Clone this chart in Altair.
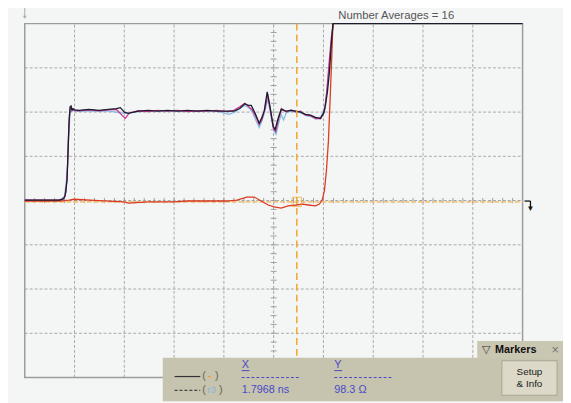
import altair as alt
import pandas as pd

# ---- trace data (x in divisions 0..10, y in divisions -4..4) ----
black_x = [0, 0.69, 0.77, 0.81, 0.85, 0.87, 0.89, 0.91, 0.93, 0.95, 0.97, 1.01, 1.09, 1.29, 1.49, 1.68, 1.84, 1.92, 2.0, 2.08, 2.28, 2.48, 2.67, 2.87, 3.07, 3.27, 3.47, 3.66, 3.86, 4.06, 4.2, 4.32, 4.42, 4.5, 4.55, 4.63, 4.71, 4.77, 4.81, 4.87, 4.93, 4.99, 5.03, 5.09, 5.15, 5.25, 5.35, 5.45, 5.54, 5.64, 5.74, 5.84, 5.94, 6.0, 6.04, 6.08, 6.12, 6.16, 6.19, 10]
black_y = [0.01, 0.01, 0.03, 0.10, 0.46, 1.12, 1.79, 2.12, 2.14, 2.04, 2.08, 2.05, 2.04, 2.06, 2.04, 2.06, 2.08, 2.10, 2.0, 1.97, 2.02, 2.04, 2.02, 2.04, 2.02, 2.04, 2.02, 2.04, 2.02, 2.02, 2.02, 2.08, 2.19, 2.15, 2.15, 1.97, 1.75, 1.90, 2.02, 2.46, 2.10, 1.68, 1.61, 1.86, 2.06, 2.02, 2.04, 2.02, 2.0, 1.95, 1.93, 1.88, 1.86, 1.97, 2.15, 2.46, 2.91, 3.57, 4.0, 4.0]

magenta_x = [0, 0.69, 0.79, 0.83, 0.86, 0.88, 0.90, 0.92, 0.95, 0.99, 1.09, 1.29, 1.49, 1.68, 1.84, 1.96, 2.02, 2.1, 2.28, 2.48, 2.67, 2.87, 3.07, 3.27, 3.47, 3.66, 3.86, 4.06, 4.2, 4.32, 4.42, 4.5, 4.57, 4.65, 4.71, 4.77, 4.83, 4.88, 4.94, 5.0, 5.04, 5.1, 5.16, 5.25, 5.35, 5.45, 5.54, 5.64, 5.74, 5.84, 5.94, 6.02, 6.07, 6.12, 6.16, 6.2]
magenta_y = [0.01, 0.01, 0.05, 0.2, 0.8, 1.5, 1.95, 2.08, 2.06, 2.04, 2.03, 2.05, 2.03, 2.05, 2.06, 1.92, 1.86, 1.98, 2.03, 2.01, 2.04, 2.02, 2.04, 2.01, 2.03, 2.02, 2.04, 2.01, 2.04, 2.12, 2.2, 2.12, 2.05, 1.88, 1.72, 1.85, 2.1, 2.4, 2.0, 1.62, 1.56, 1.85, 2.08, 2.0, 2.05, 2.0, 2.02, 1.93, 1.92, 1.86, 1.85, 2.0, 2.5, 3.2, 3.7, 4.0]

blue_x = [0, 0.7, 0.8, 0.85, 0.88, 0.91, 0.95, 1.0, 1.3, 1.7, 2.0, 2.3, 2.7, 3.1, 3.5, 3.9, 4.1, 4.22, 4.33, 4.42, 4.5, 4.57, 4.64, 4.71, 4.77, 4.83, 4.88, 4.94, 5.0, 5.05, 5.1, 5.15, 5.2, 5.25, 5.35, 5.45, 5.55, 5.65, 5.75, 5.85, 5.95, 6.03, 6.08, 6.13, 6.17, 6.2]
blue_y = [0.01, 0.01, 0.1, 0.6, 1.4, 2.0, 2.04, 2.02, 2.03, 2.02, 1.97, 2.01, 2.03, 2.02, 2.03, 2.01, 1.95, 2.0, 2.1, 2.15, 2.1, 2.0, 1.82, 1.65, 1.82, 2.05, 2.3, 1.95, 1.58, 1.5, 1.75, 1.95, 1.82, 1.98, 2.02, 2.0, 1.98, 1.92, 1.9, 1.84, 1.9, 2.1, 2.6, 3.2, 3.7, 4.0]

red_x = [0, 0.69, 0.89, 0.99, 1.49, 2.0, 2.08, 2.48, 2.99, 3.27, 4.06, 4.26, 4.46, 4.61, 4.75, 4.89, 5.01, 5.15, 5.29, 5.45, 5.58, 5.70, 5.84, 5.92, 5.98, 6.02, 6.06, 6.10, 6.14, 6.17, 6.19]
red_y = [-0.01, -0.01, 0.01, 0.03, 0.0, -0.03, -0.06, -0.03, -0.03, -0.01, -0.01, 0.01, 0.08, 0.08, -0.01, -0.10, -0.14, -0.17, -0.12, -0.10, -0.08, -0.10, -0.12, -0.08, 0.03, 0.23, 0.68, 1.35, 2.46, 3.35, 4.0]

marker_x = 5.465
marker_y = -0.03
grid_x = [1, 2, 3, 4, 6, 7, 8, 9]
grid_y = [-3, -2, -1, 1, 2, 3]
title_text = "Number Averages = 16"
x_readout = "1.7968 ns"
y_readout = "98.3 \u03a9"

FONT = "Liberation Sans"
xs = alt.Scale(domain=[0, 10], range=[17, 522])
ys = alt.Scale(domain=[-4, 4], range=[372, 13])
one = pd.DataFrame({"a": [0]})


def X(f):
    return alt.X(f, scale=xs, axis=None)


def Y(f):
    return alt.Y(f, scale=ys, axis=None)


def trace(xv, yv, color, w=1.3):
    df = pd.DataFrame({"x": xv, "y": yv})
    return alt.Chart(df).mark_line(color=color, strokeWidth=w).encode(x=X("x:Q"), y=Y("y:Q"))


def vrules(vals, y0, y1, color, dash=None, w=1.0):
    kw = dict(color=color, strokeWidth=w)
    if dash:
        kw["strokeDash"] = dash
    df = pd.DataFrame({"d": vals, "y0": y0, "y1": y1})
    return alt.Chart(df).mark_rule(**kw).encode(x=X("d:Q"), y=Y("y0:Q"), y2="y1:Q")


def hrules(vals, x0, x1, color, dash=None, w=1.0):
    kw = dict(color=color, strokeWidth=w)
    if dash:
        kw["strokeDash"] = dash
    df = pd.DataFrame({"d": vals, "x0": x0, "x1": x1})
    return alt.Chart(df).mark_rule(**kw).encode(y=Y("d:Q"), x=X("x0:Q"), x2="x1:Q")


ty = [round(-4 + 0.2 * k, 2) for k in range(41)]
tx = [round(0.2 * k, 2) for k in range(51)]

vg = vrules(grid_x, -4, 4, "#a9a9a9", [3, 2])
hg = hrules(grid_y, 0, 10, "#a9a9a9", [3, 2])
cv = vrules([5], -4, 4, "#a0a0a0", [3, 2])
ch = hrules([0], 0, 10, "#a0a0a0", [3, 2])
cvt = hrules(ty, 4.94, 5.06, "#a0a0a0")
cht = vrules(tx, -0.06, 0.06, "#a0a0a0")

frame = alt.Chart(pd.DataFrame({"x0": [0], "x1": [10], "y0": [-4], "y1": [4]})).mark_rect(
    fillOpacity=0, stroke="#9c9c9c", strokeWidth=1.5).encode(
    x=X("x0:Q"), x2="x1:Q", y=Y("y0:Q"), y2="y1:Q")

ohl = hrules([marker_y], 0, 10, "#f2c57e", [5, 2], 1.6)
ovl = vrules([marker_x], -4, 4, "#f0a52a", [7, 4], 1.5)
obox = alt.Chart(pd.DataFrame({"x": [marker_x], "y": [marker_y]})).mark_point(
    shape="square", size=90, color="#f0a52a", strokeWidth=1, opacity=0.7).encode(
    x=X("x:Q"), y=Y("y:Q"))

t_blue = trace(blue_x, blue_y, "#86bce4")
t_mag = trace(magenta_x, magenta_y, "#c8348e")
t_red = trace(red_x, red_y, "#dc3a22")
t_blk = trace(black_x, black_y, "#1c1c2c")


def txt(s, x, y, color="#222222", size=11, weight="normal", align="left"):
    return alt.Chart(one).mark_text(text=s, font=FONT, fontSize=size, color=color,
                                    fontWeight=weight, align=align, baseline="middle").encode(
        x=alt.value(x), y=alt.value(y))


def hline(x0, x1, y, color, dash=None, w=1.0):
    kw = dict(color=color, strokeWidth=w)
    if dash:
        kw["strokeDash"] = dash
    return alt.Chart(one).mark_rule(**kw).encode(x=alt.value(x0), x2=alt.value(x1), y=alt.value(y))


def vline(x, y0, y1, color, w=1.0):
    return alt.Chart(one).mark_rule(color=color, strokeWidth=w).encode(
        x=alt.value(x), y=alt.value(y0), y2=alt.value(y1))


def box(x0, x1, y0, y1, color, stroke=None):
    kw = dict(color=color)
    if stroke:
        kw["stroke"] = stroke
        kw["strokeWidth"] = 1
    return alt.Chart(one).mark_rect(**kw).encode(
        x=alt.value(x0), x2=alt.value(x1), y=alt.value(y0), y2=alt.value(y1))


title = txt(title_text, 335, 5, "#555555", 11.5)

gnd = vline(17, -4, 6, "#aaaaaa")
gnd2 = txt("\u25bc", 17, 6, "#aaaaaa", 6, align="center")
trg1 = hline(524, 530, 193, "#111111", w=1.3)
trg2 = vline(530, 193, 199, "#111111", w=1.3)
trg3 = txt("\u25bc", 530, 201, "#111111", 8, align="center")

panel = box(157, 563, 352, 396, "#c6c3ae")
tab = box(476, 563, 335, 353, "#c9c6b2")
btn = box(501, 557, 355, 390, "#dcd9c8", "#a9a690")

BLUE = "#4a4ac8"
items = [
    hline(169, 195, 371, "#333333", w=1.2),
    txt("(", 197, 371, "#6a6450"), txt("-", 203, 370, "#f0a030", weight="bold"), txt(")", 210, 371, "#6a6450"),
    hline(169, 195, 385, "#444444", dash=[3, 2], w=1.2),
    txt("(", 197, 385, "#6a6450"), txt("r3", 202, 385, "#8ab8e0", size=10), txt(")", 214, 385, "#6a6450"),
    txt("X", 237, 359, BLUE), hline(237, 245, 365, BLUE),
    hline(237, 297, 372, BLUE, dash=[3, 2]),
    txt(x_readout, 237, 385, BLUE),
    txt("Y", 331, 359, BLUE), hline(331, 339, 365, BLUE),
    hline(331, 390, 372, BLUE, dash=[3, 2]),
    txt(y_readout, 331, 385, BLUE),
    txt("\u25bd", 485, 344, "#333333", size=11, align="center"),
    txt("Markers", 494, 344, "#111111", size=11, weight="bold"),
    txt("\u00d7", 555, 344, "#777777", size=13, align="center"),
    txt("Setup", 529, 366, "#222222", size=10, align="center"),
    txt("& Info", 529, 379, "#222222", size=10, align="center"),
]

chart = alt.layer(
    vg, hg, cv, ch, cvt, cht, frame, ohl, t_blue, t_mag, t_red, t_blk, ovl, obox, title,
    gnd, gnd2, trg1, trg2, trg3, panel, tab, btn, *items
).properties(
    width=563, height=395,
    autosize=alt.AutoSizeParams(type="none"), padding=0,
    background="#f4f6f6",
).configure_view(strokeWidth=0)

chart.save("out.html", embed_options={"renderer": "svg", "actions": False})
